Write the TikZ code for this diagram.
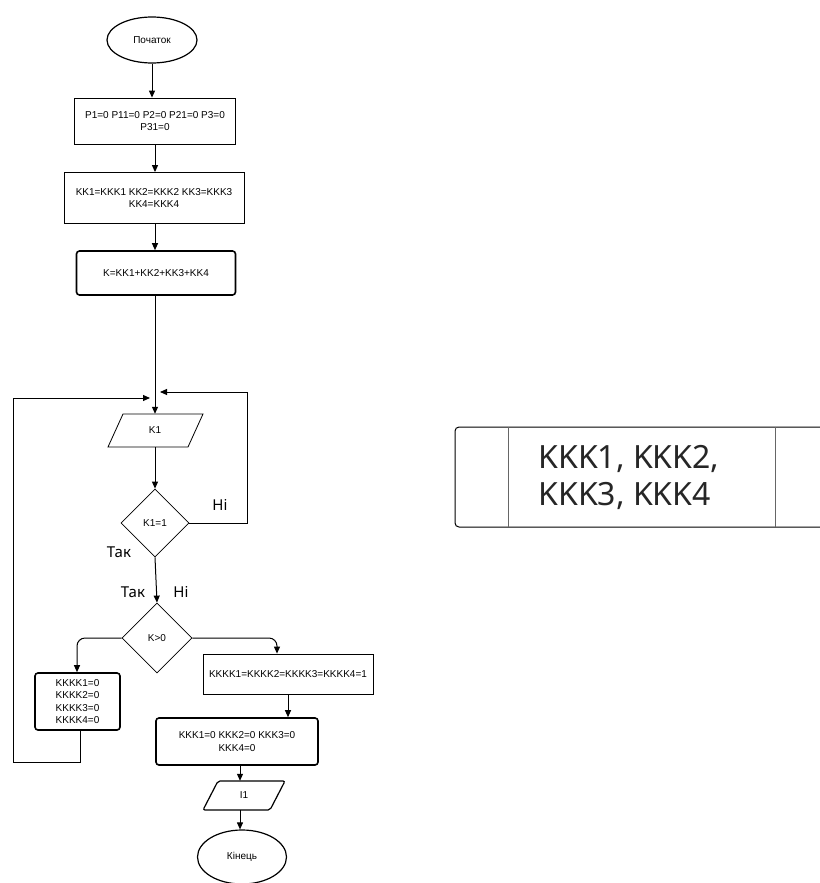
\documentclass[tikz,border=0pt]{standalone}
\usepackage{fontspec}
\setmainfont{Liberation Sans}
\newfontfamily\labelfont{Noto Sans}
\usetikzlibrary{shapes.geometric,arrows.meta}
\begin{document}
\begin{tikzpicture}[x=1pt,y=-1pt,
  every node/.style={font=\fontsize{10}{12.5}\selectfont, align=center, inner sep=0pt},
  terminal/.style={draw, ellipse, line width=1.2pt},
  procbox/.style={draw, rectangle, line width=0.8pt},
  thickbox/.style={draw, rectangle, rounded corners=3pt, line width=1.6pt},
  decision/.style={draw, diamond, line width=0.8pt},
  lbl/.style={font=\labelfont\fontsize{15}{18}\selectfont},
  conn/.style={line width=1pt},
  arr/.style={conn, -{Triangle[length=7pt,width=6pt]}}
]
\useasboundingbox (0,0) rectangle (819,883);

% nodes
\node[terminal, minimum width=90pt, minimum height=46pt] (start) at (152,40) {Початок};
\node[procbox, minimum width=161pt, minimum height=46pt] (b1) at (155,121) {P1=0 P11=0 P2=0 P21=0 P3=0\\P31=0};
\node[procbox, minimum width=180pt, minimum height=51pt] (b2) at (154,198) {KK1=KKK1 KK2=KKK2 KK3=KKK3\\KK4=KKK4};
\node[thickbox, minimum width=159pt, minimum height=44pt] (b3) at (156,273) {K=KK1+KK2+KK3+KK4};

% parallelogram K1
\draw[line width=0.8pt] (123,414) -- (203,414) -- (188,447) -- (108,447) -- cycle;
\node[minimum width=80pt, minimum height=33pt] (p1) at (155,430.5) {K1};

\node[decision, minimum size=68pt] (d1) at (155,523) {K1=1};
\node[decision, minimum size=70pt] (d2) at (157,638) {K>0};

\node[thickbox, minimum width=85pt, minimum height=57pt] (bl) at (77.5,701.5) {KKKK1=0\\KKKK2=0\\KKKK3=0\\KKKK4=0};
\node[procbox, minimum width=170pt, minimum height=40pt] (br) at (288,674) {KKKK1=KKKK2=KKKK3=KKKK4=1};
\node[thickbox, minimum width=162pt, minimum height=47pt] (b4) at (237,741.5) {KKK1=0 KKK2=0 KKK3=0\\KKK4=0};

% parallelogram I1
\draw[line width=1.2pt, rounded corners=2pt] (218,781) -- (285,781) -- (270,810) -- (203,810) -- cycle;
\node[minimum width=67pt, minimum height=29pt] (p2) at (244,795.5) {I1};

\node[terminal, minimum width=89pt, minimum height=54pt] (end) at (242,857) {Кінець};

% merge points
\coordinate (jl) at (150,398);
\coordinate (jr) at (160,392);
\coordinate (rr) at (247,392);
\coordinate (ll) at (13,398);

% connectors
\draw[arr] (start.south) -- (b1.north -| start.south);
\draw[arr] (b1.south) -- (b2.north -| b1.south);
\draw[arr] (b2.south -| 155,0) -- (b3.north -| 155,0);
\draw[arr] (b3.south -| 155,0) -- (p1.north);
\draw[arr] (p1.south) -- (d1.north);
\draw[arr] (d1.east) -- (rr |- d1.east) -- (rr) -- (jr);
\draw[arr] (d1.south) -- (d2.north);
\draw[arr, rounded corners=8pt] (d2.west) -- (77,638) -- (bl.north -| 77,0);
\draw[arr, rounded corners=8pt] (d2.east) -- (277,638) -- (br.north -| 277,0);
\draw[conn] (bl.south -| 80,0) -- (80,762) -- (ll |- 0,762) -- (ll);
\draw[arr] (ll) -- (jl);
\draw[arr] (br.south) -- (b4.north -| br.south);
\draw[arr] (b4.south -| 240,0) -- (p2.north -| 240,0);
\draw[arr] (p2.south -| 240,0) -- (end.north -| 240,0);

% labels
\node[lbl] (lni1) at (220,505) {Ні};
\node[lbl] (ltak1) at (119,552) {Так};
\node[lbl] (ltak2) at (133,592) {Так};
\node[lbl] (lni2) at (181,592) {Ні};

% right subprocess box
\draw[line width=1pt, rounded corners=4pt] (830,427) -- (455,427) -- (455,527) -- (830,527);
\draw[line width=1pt, black!60] (508,427) -- (508,527);
\draw[line width=1pt, black!60] (775,427) -- (775,527);
\node[font=\labelfont\fontsize{32}{37}\selectfont, align=left, text=black!85] (kk) at (629,477) {KKK1, KKK2,\\KKK3, KKK4};
\end{tikzpicture}
\end{document}
